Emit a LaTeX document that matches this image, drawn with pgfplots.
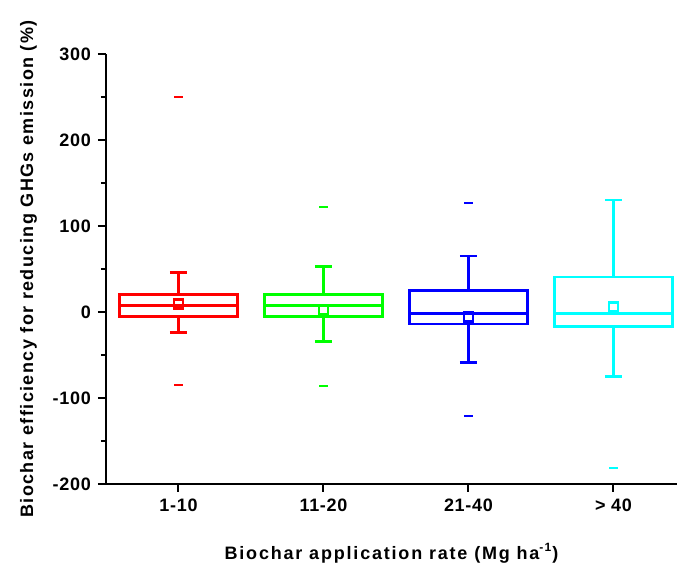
\documentclass[border=0pt]{standalone}
\usepackage{pgfplots}
\pgfplotsset{compat=1.18}
\usepgfplotslibrary{statistics}
\usepackage{fontspec}
\setmainfont{Liberation Sans}
\definecolor{cR}{RGB}{255,0,0}
\definecolor{cG}{RGB}{0,255,0}
\definecolor{cB}{RGB}{0,0,255}
\definecolor{cC}{RGB}{0,255,255}
\begin{document}
\begin{tikzpicture}
\path[use as bounding box] (-53pt,-44pt) rectangle (285.5pt,242pt);
\begin{axis}[
  at={(0pt,0pt)}, anchor=south west,
  scale only axis, width=285.5pt, height=215pt,
  xmin=0.5, xmax=4.438, ymin=-200, ymax=300,
  axis lines=left,
  axis line style={line width=1pt, -},
  xtick={1,2,3,4},
  xticklabels={1-10,11-20,21-40,{> 40}},
  ytick={-200,-100,...,300},
  minor y tick num=1,
  tick align=outside,
  major tick length=4pt, minor tick length=2.5pt,
  every tick/.style={black, line width=1pt},
  /pgf/number format/assume math mode=true,
  ticklabel style={font=\bfseries\fontsize{9}{9}\selectfont\addfontfeatures{LetterSpace=4}},
  xlabel style={font=\bfseries\fontsize{9}{10}\selectfont\addfontfeatures{LetterSpace=10}, yshift=-9pt},
  ylabel style={font=\bfseries\fontsize{9}{10}\selectfont\addfontfeatures{LetterSpace=8}, yshift=1pt},
  xlabel={Biochar application rate (Mg ha\textsuperscript{-1})},
  ylabel={Biochar efficiency for reducing GHGs emission (\%)},
  boxplot/draw direction=y,
  boxplot/every average/.style={/tikz/mark=square, /tikz/mark size=2.2pt, /tikz/mark options={line width=1pt, fill=white}},
]
\addplot[cR, line width=1.3pt,
  boxplot prepared={draw position=1, lower whisker=-24, lower quartile=-5, median=7.4, average=9.5, upper quartile=20, upper whisker=46, box extend=0.81, whisker extend=0.12}]
  coordinates {};
\addplot[cG, line width=1.3pt,
  boxplot prepared={draw position=2, lower whisker=-34.5, lower quartile=-5, median=7.4, average=3, upper quartile=20, upper whisker=52.7, box extend=0.81, whisker extend=0.12}]
  coordinates {};
\addplot[cB, line width=1.3pt,
  boxplot prepared={draw position=3, lower whisker=-59, lower quartile=-14, median=-1.5, average=-5.8, upper quartile=24.8, upper whisker=65, box extend=0.81, whisker extend=0.12}]
  coordinates {};
\addplot[cC, line width=1.3pt,
  boxplot prepared={draw position=4, lower whisker=-75, lower quartile=-17, median=-1.5, average=6, upper quartile=40.7, upper whisker=130, box extend=0.81, whisker extend=0.12}]
  coordinates {};
% outliers
\addplot[only marks, cR, mark=-, mark size=2.25pt, mark options={line width=1pt}] coordinates {(1,250) (1,-84.5)};
\addplot[only marks, cG, mark=-, mark size=2.25pt, mark options={line width=1pt}] coordinates {(2,122) (2,-86)};
\addplot[only marks, cB, mark=-, mark size=2.25pt, mark options={line width=1pt}] coordinates {(3,127) (3,-121)};
\addplot[only marks, cC, mark=-, mark size=2.25pt, mark options={line width=1pt}] coordinates {(4,-181)};
\end{axis}
\end{tikzpicture}
\end{document}
